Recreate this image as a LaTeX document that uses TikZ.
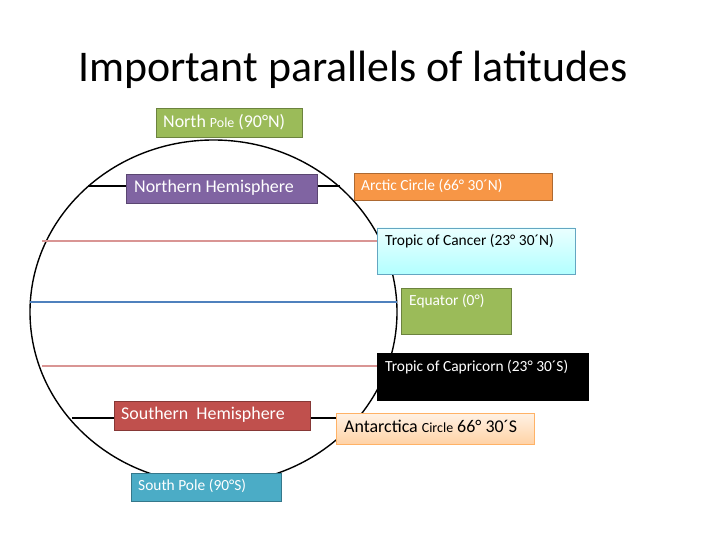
\documentclass[tikz,border=0pt]{standalone}
\usepackage{fontspec}
\setmainfont{Carlito}
\begin{document}
\begin{tikzpicture}[x=1bp,y=-1bp,
  bx/.style={draw=#1!70!black,fill=#1,line width=0.8pt},
  lbl/.style={anchor=north west,inner sep=0pt,text=white}]
\useasboundingbox (0,0) rectangle (720,540);
\definecolor{cgreen}{HTML}{9BBB59}
\definecolor{cpurple}{HTML}{8064A2}
\definecolor{corange}{HTML}{F79646}
\definecolor{cred}{HTML}{C0504D}
\definecolor{cteal}{HTML}{4BACC6}
\definecolor{cblue}{HTML}{4F81BD}
\definecolor{cpink}{HTML}{D99594}
\node (title) at (353,70) {\fontsize{44}{50}\selectfont Important parallels of latitudes};
% globe
\draw[line width=1.4pt] (213.5,312) ellipse [x radius=183.5, y radius=172];
\coordinate (a1) at (88,186); \coordinate (a2) at (340,186);
\coordinate (c1) at (42,241); \coordinate (c2) at (378,241);
\coordinate (e1) at (30,302); \coordinate (e2) at (397,302);
\coordinate (k1) at (42,366); \coordinate (k2) at (378,366);
\coordinate (s1) at (72,418); \coordinate (s2) at (340,418);
\draw[line width=1.8pt] (a1) -- (a2);
\draw[line width=1.8pt] (s1) -- (s2);
\draw[cpink,line width=1.8pt] (c1) -- (c2);
\draw[cpink,line width=1.8pt] (k1) -- (k2);
\draw[cblue,line width=1.4pt] (e1) -- (e2);
% boxes
\draw[bx=cgreen] (156,108) rectangle (302,137);
\node[lbl] (np) at (163,114) {\fontsize{18}{20}\selectfont North {\fontsize{14}{16}\selectfont Pole} (90°N)};
\draw[bx=cpurple] (126,174) rectangle (317,203);
\node[lbl] (nh) at (134,180) {\fontsize{18}{20}\selectfont Northern Hemisphere};
\draw[bx=corange] (354,173) rectangle (552,200);
\node[lbl] (ac) at (361,179) {\fontsize{15.5}{17}\selectfont Arctic Circle (66° 30´N)};
\shade[top color=cyan!8,bottom color=cyan!30] (377,228) rectangle (575,274);
\draw[cyan!50!gray,line width=0.8pt] (377,228) rectangle (575,274);
\node[lbl,text=black] (tc) at (385,234) {\fontsize{15.5}{17}\selectfont Tropic of Cancer (23° 30´N)};
\draw[bx=cgreen] (401,288) rectangle (511,334);
\node[lbl] (eq) at (409,294) {\fontsize{15.5}{17}\selectfont Equator (0°)};
\draw[fill=black] (377,353) rectangle (588,400);
\node[lbl] (tk) at (385,360) {\fontsize{15.5}{17}\selectfont Tropic of Capricorn (23° 30´S)};
\draw[bx=cred] (114,401) rectangle (310,430);
\node[lbl] (sh) at (121,407) {\fontsize{18}{20}\selectfont Southern\ \ Hemisphere};
\shade[top color=orange!10,bottom color=orange!35] (336,413) rectangle (534,444);
\draw[orange!60,line width=0.8pt] (336,413) rectangle (534,444);
\node[lbl,text=black] (an) at (344,420) {\fontsize{18}{20}\selectfont Antarctica {\fontsize{14}{16}\selectfont Circle} 66° 30´S};
\draw[bx=cteal] (131,473) rectangle (281,501);
\node[lbl] (sp) at (138,479) {\fontsize{15.5}{17}\selectfont South Pole (90°S)};
\end{tikzpicture}
\end{document}
